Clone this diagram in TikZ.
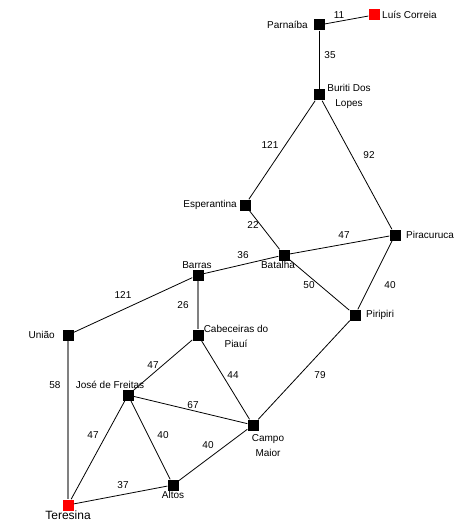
\documentclass[tikz,border=0pt]{standalone}
\usepackage{fontspec}
\setmainfont{Liberation Sans}

\begin{document}
\begin{tikzpicture}[x=1pt,y=-1pt,
  city/.style={fill=black,minimum size=11pt,inner sep=0pt},
  capital/.style={fill=red,minimum size=11pt,inner sep=0pt},
  road/.style={line width=0.8pt},
  oldroad/.style={line width=1.5pt,gray},
  dist/.style={font=\fontsize{10}{12}\selectfont,inner sep=0pt},
  town/.style={font=\fontsize{10}{15}\selectfont,align=center,inner sep=0pt}]
\useasboundingbox (0,0) rectangle (462,532);
% cities
\node[capital] (luis) at (374,15) {};
\node[city] (parnaiba) at (319,25) {};
\node[city] (buriti) at (319,95) {};
\node[city] (esperantina) at (245,205) {};
\node[city] (piracuruca) at (395,235) {};
\node[city] (batalha) at (284,255) {};
\node[city] (barras) at (198,275) {};
\node[city] (piripiri) at (355,315) {};
\node[city] (uniao) at (68,335) {};
\node[city] (cabeceiras) at (198,335) {};
\node[city] (jose) at (128,395) {};
\node[city] (campo) at (253,425) {};
\node[city] (altos) at (173,485) {};
\node[capital] (teresina) at (68,505) {};
% names
\node[town,anchor=west] (nluis) at (382,15) {Luís Correia};
\node[town,anchor=east] (nparnaiba) at (308,25) {Parnaíba};
\node[town] (nburiti) at (349,96) {Buriti Dos\\Lopes};
\node[town,anchor=east] (nesperantina) at (237,205) {Esperantina};
\node[town,anchor=west] (npiracuruca) at (406,235) {Piracuruca};
\node[town] (nbatalha) at (278,265) {Batalha};
\node[town] (nbarras) at (197,265) {Barras};
\node[town,anchor=west] (npiripiri) at (366,315) {Piripiri};
\node[town,anchor=east] (nuniao) at (55,335) {União};
\node[town] (ncabeceiras) at (236,336) {Cabeceiras do\\Piauí};
\node[town] (njose) at (110,385) {José de Freitas};
\node[town] (ncampo) at (268,446) {Campo\\Maior};
\node[town] (naltos) at (173,495) {Altos};
\node[town,font=\fontsize{12}{14}\selectfont] (nteresina) at (68,515) {Teresina};
% roads
\draw[road] (parnaiba) -- (luis);
\draw[road] (parnaiba) -- (buriti);
\draw[road] (buriti) -- (esperantina);
\draw[road] (buriti) -- (piracuruca);
\draw[road] (esperantina) -- (batalha);
\draw[road] (batalha) -- (piracuruca);
\draw[road] (barras) -- (batalha);
\draw[road] (batalha) -- (piripiri);
\draw[road] (piracuruca) -- (piripiri);
\draw[road] (uniao) -- (barras);
\draw[oldroad] (barras) -- (cabeceiras);
\draw[road] (cabeceiras) -- (jose);
\draw[road] (cabeceiras) -- (campo);
\draw[road] (piripiri) -- (campo);
\draw[oldroad] (uniao) -- (teresina);
\draw[road] (jose) -- (campo);
\draw[road] (jose) -- (teresina);
\draw[road] (jose) -- (altos);
\draw[road] (altos) -- (campo);
\draw[road] (teresina) -- (altos);
% distances
\node[dist] (d1) at (339,15) {11};
\node[dist] (d2) at (330,55) {35};
\node[dist] (d3) at (270,145) {121};
\node[dist] (d4) at (369,155) {92};
\node[dist] (d5) at (253,225) {22};
\node[dist] (d6) at (344,235) {47};
\node[dist] (d7) at (243,255) {36};
\node[dist] (d8) at (309,285) {50};
\node[dist] (d9) at (390,285) {40};
\node[dist] (d10) at (123,295) {121};
\node[dist] (d11) at (183,305) {26};
\node[dist] (d12) at (153,365) {47};
\node[dist] (d13) at (233,375) {44};
\node[dist] (d14) at (320,375) {79};
\node[dist] (d15) at (55,385) {58};
\node[dist] (d16) at (193,405) {67};
\node[dist] (d17) at (93,435) {47};
\node[dist] (d18) at (163,435) {40};
\node[dist] (d19) at (208,445) {40};
\node[dist] (d20) at (123,485) {37};
\end{tikzpicture}
\end{document}
